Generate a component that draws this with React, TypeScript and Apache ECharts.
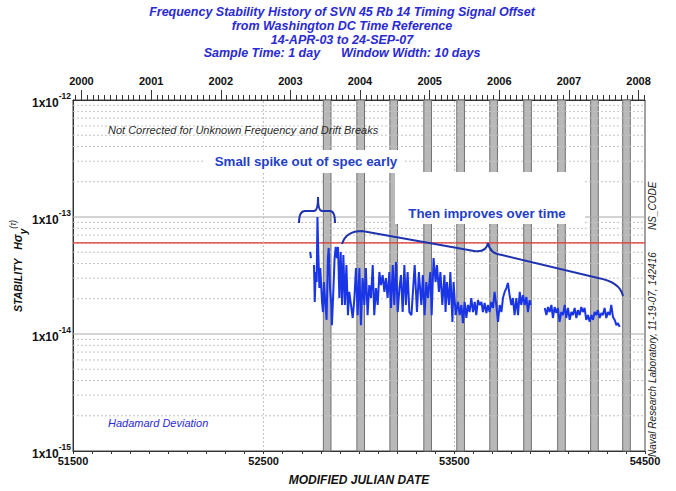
import React, { useEffect, useRef } from "react";
import * as echarts from "echarts";

const FONT = '"Liberation Sans", Arial, Helvetica, sans-serif';

// ---------- data ----------
const titleLines = [
  "Frequency Stability History of SVN 45 Rb 14 Timing Signal Offset",
  "from Washington DC Time Reference",
  "14-APR-03 to 24-SEP-07",
  "Sample Time: 1 day      Window Width: 10 days",
];

const xMin = 51500;
const xMax = 54500;
const xLabelValues = [51500, 52500, 53500, 54500];
const xGridValues = [52500, 53500];

const yearLabels = ["2000", "2001", "2002", "2003", "2004", "2005", "2006", "2007", "2008"];
const yearMJD = [51544, 51910, 52275, 52640, 53005, 53371, 53736, 54101, 54466];

const yMin = 1e-15;
const yMax = 1e-12;
const minorMultipliers = [2, 3, 4, 5, 6, 7, 8, 9];
const decadeExponents = [-15, -14, -13];
const majorGridValues = [1e-14, 1e-13];
const specLimit = 6e-14;

// eclipse seasons (shaded bands), MJD
const eclipseStart = [52813, 52989, 53162, 53340, 53513, 53686, 53864, 54042, 54215, 54383];
const eclipseEnd = [52853, 53029, 53202, 53380, 53553, 53726, 53904, 54082, 54255, 54423];

// Hadamard deviation, MJD and value in units of 1e-14 (null = gap)
const obsMJD = [
  52744, 52748, 52755,
  52764, 52768, 52773, 52778, 52782, 52787, 52792, 52797, 52806, 52811,
  52816, 52824, 52830, 52837, 52841, 52848, 52855, 52858, 52866, 52872,
  52878, 52884, 52890, 52897, 52904, 52911, 52918, 52926, 52934, 52942,
  52949, 52958, 52967, 52976, 52984, 52993, 53002, 53010, 53019, 53028,
  53036, 53045, 53054, 53063, 53072, 53080, 53089, 53098, 53107, 53115,
  53124, 53133, 53141, 53150, 53159, 53168, 53177, 53185, 53194, 53203,
  53212, 53220, 53229, 53238, 53246, 53255, 53264, 53275, 53292, 53304,
  53314, 53327, 53335, 53344, 53353, 53362, 53374, 53381, 53391, 53402,
  53409, 53419, 53427, 53437, 53448, 53454, 53461, 53472, 53479, 53490,
  53496, 53507, 53519, 53528, 53537, 53545, 53554, 53563, 53571, 53580,
  53589, 53598, 53607, 53615, 53624, 53633, 53642, 53650, 53659, 53668,
  53676, 53685, 53694, 53703, 53711, 53720, 53729, 53738, 53747, 53755,
  53764, 53773, 53781, 53790, 53799, 53807, 53816, 53825, 53834, 53843,
  53851, 53860, 53869, 53878, 53886, 53895, 53900, 53937,
  53974, 53983, 53991, 54000, 54009, 54017, 54026, 54035, 54043, 54052,
  54061, 54070, 54079, 54087, 54096, 54105, 54114, 54122, 54131, 54140,
  54148, 54157, 54166, 54174, 54183, 54192, 54201, 54210, 54219, 54227,
  54236, 54245, 54253, 54262, 54271, 54279, 54288, 54297, 54306, 54315,
  54323, 54332, 54341, 54350, 54358, 54367,
];
const hdevE14: (number | null)[] = [
  5.03, 4.46, null,
  3.89, 1.88, 3.39, 2.78, 10.0, 4.73, 2.47, 3.66, 1.88, 1.54,
  2.78, 1.77, 1.32, 4.46, 5.44, 2.47, 1.77, 1.19, 2.47, 4.46,
  5.55, 4.46, 5.55, 2.03, 5.03, 1.77, 4.73, 1.77, 3.89, 1.45,
  2.29, 1.77, 1.37, 2.03, 3.66, 1.45, 3.66, 1.19, 3.01, 1.77,
  3.66, 1.45, 2.62, 2.03, 3.89, 1.45, 2.47, 1.77, 3.39, 2.62,
  3.19, 2.29, 3.01, 2.03, 3.39, 1.67, 3.89, 1.77, 4.12, 1.54,
  2.47, 3.19, 1.54, 3.89, 1.77, 3.39, 1.54, 1.45, 3.89, 1.54,
  3.39, 1.77, 3.19, 1.45, 2.78, 2.03, 3.39, 1.45, 4.46, 2.78,
  3.89, 2.29, 3.39, 1.77, 3.19, 1.54, 2.78, 1.77, 3.39, 1.27,
  2.78, 1.45, 1.88, 1.45, 1.77, 1.24, 1.88, 1.37, 1.77, 1.54,
  2.03, 1.54, 1.88, 1.45, 1.95, 1.77, 1.88, 1.54, 1.84, 1.51,
  1.77, 1.54, 1.88, 1.67, 2.29, 1.77, 1.27, 1.77, 1.54, 2.03,
  2.29, 2.47, 2.73, 2.15, 1.77, 2.03, 1.45, 2.03, 1.45, 2.29,
  1.77, 2.15, 1.77, 2.07, 1.54, 1.95, 1.77, null,
  1.67, 1.45, 1.70, 1.54, 1.77, 1.37, 1.70, 1.51, 1.67, 1.27,
  1.54, 1.45, 1.77, 1.37, 1.67, 1.32, 1.54, 1.45, 1.67, 1.37,
  1.60, 1.45, 1.70, 1.54, 1.67, 1.32, 1.45, 1.27, 1.45, 1.32,
  1.54, 1.45, 1.60, 1.37, 1.51, 1.45, 1.67, 1.37, 1.54, 1.45,
  1.77, 1.40, 1.32, 1.19, 1.24, 1.15,
];

// ---------- helpers ----------
function monthTickMJD(): number[] {
  const out: number[] = [];
  for (let y = 1999; y <= 2008; y++) {
    for (let m = 0; m < 12; m++) {
      const mjd = Date.UTC(y, m, 1) / 86400000 + 40587;
      if (mjd >= xMin && mjd <= xMax) out.push(mjd);
    }
  }
  return out;
}

// horizontal rule segments across the full x range, separated by gaps
function hRules(values: number[]): any[] {
  const out: any[] = [];
  values.forEach((v) => {
    out.push([xMin, v], [xMax, v], [xMax, "-"]);
  });
  return out;
}

const braceShortPath =
  "M299,223 Q299,211 305,211 L314,211 Q318,211 318,197 Q318,211 322,211 L330,211 Q335,211 335,223";
const braceLongPath =
  "M342,244 Q346,231 362,231 L474,251 Q486,253 488,243 Q490,254 502,255 L598,278 Q620,282 623,296";

export default function App() {
  const ref = useRef<HTMLDivElement>(null);

  useEffect(() => {
    document.body.style.margin = "0";
    if (!ref.current) return;
    echarts.graphic.registerShape("braceShort", echarts.graphic.extendPath(braceShortPath, {}));
    echarts.graphic.registerShape("braceLong", echarts.graphic.extendPath(braceLongPath, {}));

    const chart = echarts.init(ref.current, undefined, { renderer: "svg" });

    const seriesData = obsMJD.map((d, i) => [d, hdevE14[i] == null ? "-" : (hdevE14[i] as number) * 1e-14]);

    const minorValues: number[] = [];
    decadeExponents.forEach((e) => minorMultipliers.forEach((m) => minorValues.push(m * Math.pow(10, e))));

    const vLines = xGridValues.map((v) => ({
      xAxis: v,
      lineStyle: { color: "#c4c4c4", type: [2, 2], width: 1 },
    }));

    const bands = eclipseStart.map((s, i) => [{ xAxis: s }, { xAxis: eclipseEnd[i] }]);
    const months = monthTickMJD();

    const option: any = {
      animation: false,
      backgroundColor: "#ffffff",
      grid: {
        left: 73,
        right: 31,
        top: 100,
        bottom: 40,
        show: true,
        borderColor: "#444",
        borderWidth: 1,
        containLabel: false,
      },
      xAxis: [
        {
          type: "value",
          min: xMin,
          max: xMax,
          interval: 100,
          position: "bottom",
          axisLine: { show: true, lineStyle: { color: "#333" } },
          axisTick: { show: true, length: 3, lineStyle: { color: "#333" } },
          axisLabel: {
            formatter: (v: number) => (xLabelValues.indexOf(Math.round(v)) >= 0 ? String(Math.round(v)) : ""),
            fontFamily: FONT,
            fontWeight: "bold",
            fontSize: 11,
            color: "#111",
            margin: 4,
          },
          splitLine: { show: false },
          name: "MODIFIED JULIAN DATE",
          nameLocation: "middle",
          nameGap: 23,
          nameTextStyle: {
            fontFamily: FONT,
            fontWeight: "bold",
            fontStyle: "italic",
            fontSize: 12,
            color: "#111",
          },
        },
        {
          type: "value",
          min: xMin,
          max: xMax,
          position: "top",
          axisLine: { show: true, lineStyle: { color: "#333" } },
          axisTick: { show: true, length: 5, customValues: months, lineStyle: { color: "#333" } },
          axisLabel: { show: false },
          splitLine: { show: false },
        },
        {
          type: "value",
          min: xMin,
          max: xMax,
          position: "top",
          axisLine: { show: false },
          axisTick: { show: true, length: 10, customValues: yearMJD, lineStyle: { color: "#333" } },
          axisLabel: {
            customValues: yearMJD,
            formatter: (v: number) => {
              const i = yearMJD.indexOf(Math.round(v));
              return i >= 0 ? yearLabels[i] : "";
            },
            fontFamily: FONT,
            fontWeight: "bold",
            fontSize: 11,
            color: "#111",
            margin: 14,
          },
          splitLine: { show: false },
        },
      ],
      yAxis: {
        type: "log",
        logBase: 10,
        min: yMin,
        max: yMax,
        axisLine: { show: true, lineStyle: { color: "#333" } },
        axisTick: { show: false },
        splitLine: { show: false },
        axisLabel: {
          margin: 2,
          formatter: (v: number) => `{m|1x10}{e|${Math.round(Math.log10(v))}}`,
          rich: {
            m: { fontFamily: FONT, fontWeight: "bold", fontSize: 12, color: "#111", lineHeight: 18, verticalAlign: "bottom" },
            e: { fontFamily: FONT, fontWeight: "bold", fontSize: 8.5, color: "#111", lineHeight: 18, verticalAlign: "top" },
          },
        },
      },
      series: [
        {
          name: "minorGrid",
          type: "line",
          data: hRules(minorValues),
          silent: true,
          showSymbol: false,
          connectNulls: false,
          z: 1,
          lineStyle: { color: "#c4c4c4", type: [2, 2], width: 1 },
          markLine: {
            silent: true,
            symbol: ["none", "none"],
            label: { show: false },
            data: vLines,
          },
        },
        {
          name: "majorGrid",
          type: "line",
          data: hRules(majorGridValues),
          silent: true,
          showSymbol: false,
          connectNulls: false,
          z: 1,
          lineStyle: { color: "#a8a8a8", type: "solid", width: 1 },
        },
        {
          name: "eclipse",
          type: "line",
          data: [],
          silent: true,
          z: 2,
          markArea: {
            silent: true,
            itemStyle: { color: "#b8b8b8", borderColor: "#707070", borderWidth: 1 },
            label: { show: false },
            data: bands,
          },
        },
        {
          name: "spec",
          type: "line",
          data: hRules([specLimit]),
          silent: true,
          showSymbol: false,
          connectNulls: false,
          z: 3,
          lineStyle: { color: "#e0302a", type: "solid", width: 1.2 },
        },
        {
          name: "Hadamard Deviation",
          type: "line",
          data: seriesData,
          showSymbol: false,
          connectNulls: false,
          z: 5,
          lineStyle: { color: "#1a35e6", width: 2 },
        },
      ],
      graphic: [
        {
          type: "text",
          x: 342,
          y: 5,
          z: 100,
          style: {
            text: titleLines.join("\n"),
            fill: "#2a2ad2",
            fontFamily: FONT,
            fontSize: 12.5,
            fontWeight: "bold",
            fontStyle: "italic",
            lineHeight: 13.8,
            align: "center",
            verticalAlign: "top",
          },
        },
        {
          type: "rect",
          z: 100,
          shape: { x: 205, y: 150, width: 200, height: 23 },
          style: { fill: "#ffffff" },
        },
        {
          type: "rect",
          z: 100,
          shape: { x: 395, y: 172, width: 190, height: 52 },
          style: { fill: "#ffffff" },
        },
        {
          type: "text",
          x: 108,
          y: 130,
          z: 101,
          style: {
            text: "Not Corrected for Unknown Frequency and Drift Breaks",
            fill: "#2a2a2a",
            fontFamily: FONT,
            fontSize: 11,
            fontStyle: "italic",
            align: "left",
            verticalAlign: "middle",
          },
        },
        {
          type: "text",
          x: 306,
          y: 161,
          z: 101,
          style: {
            text: "Small spike out of spec early",
            fill: "#2440c8",
            fontFamily: FONT,
            fontSize: 13.3,
            fontWeight: "bold",
            align: "center",
            verticalAlign: "middle",
          },
        },
        {
          type: "text",
          x: 487,
          y: 213,
          z: 101,
          style: {
            text: "Then improves over time",
            fill: "#2440c8",
            fontFamily: FONT,
            fontSize: 13.3,
            fontWeight: "bold",
            align: "center",
            verticalAlign: "middle",
          },
        },
        {
          type: "braceShort",
          x: 0,
          y: 0,
          z: 102,
          style: { stroke: "#1f33b0", lineWidth: 2, fill: null },
        },
        {
          type: "braceLong",
          x: 0,
          y: 0,
          z: 102,
          style: { stroke: "#1f33b0", lineWidth: 2, fill: null },
        },
        {
          type: "text",
          x: 108,
          y: 423,
          z: 101,
          style: {
            text: "Hadamard Deviation",
            fill: "#2b2bd6",
            fontFamily: FONT,
            fontSize: 11,
            fontStyle: "italic",
            align: "left",
            verticalAlign: "middle",
          },
        },
        {
          type: "text",
          x: 652,
          y: 457,
          rotation: Math.PI / 2,
          z: 101,
          style: {
            text: "Naval Research Laboratory, 11-19-07, 142416",
            fill: "#222",
            fontFamily: FONT,
            fontSize: 10,
            fontStyle: "italic",
            align: "left",
            verticalAlign: "middle",
          },
        },
        {
          type: "text",
          x: 652,
          y: 230,
          rotation: Math.PI / 2,
          z: 101,
          style: {
            text: "NS_CODE",
            fill: "#222",
            fontFamily: FONT,
            fontSize: 10,
            fontStyle: "italic",
            align: "left",
            verticalAlign: "middle",
          },
        },
        {
          type: "text",
          x: 18,
          y: 312,
          rotation: Math.PI / 2,
          z: 101,
          style: {
            text: "{a|STABILITY}{a|   H}{g|σ}{s|y}{t|(τ)}",
            align: "left",
            verticalAlign: "middle",
            rich: {
              a: { fontFamily: FONT, fontSize: 10.5, fontWeight: "bold", fontStyle: "italic", fill: "#111", lineHeight: 20, verticalAlign: "middle" },
              g: { fontFamily: FONT, fontSize: 12, fontWeight: "bold", fontStyle: "italic", fill: "#111", lineHeight: 20, verticalAlign: "middle" },
              s: { fontFamily: FONT, fontSize: 10, fontWeight: "bold", fontStyle: "italic", fill: "#111", lineHeight: 20, verticalAlign: "bottom" },
              t: { fontFamily: FONT, fontSize: 8.5, fontStyle: "italic", fill: "#111", lineHeight: 20, verticalAlign: "top" },
            },
          },
        },
      ],
    };

    chart.setOption(option);
    return () => {
      chart.dispose();
    };
  }, []);

  return <div ref={ref} style={{ width: 676, height: 491 }} />;
}
